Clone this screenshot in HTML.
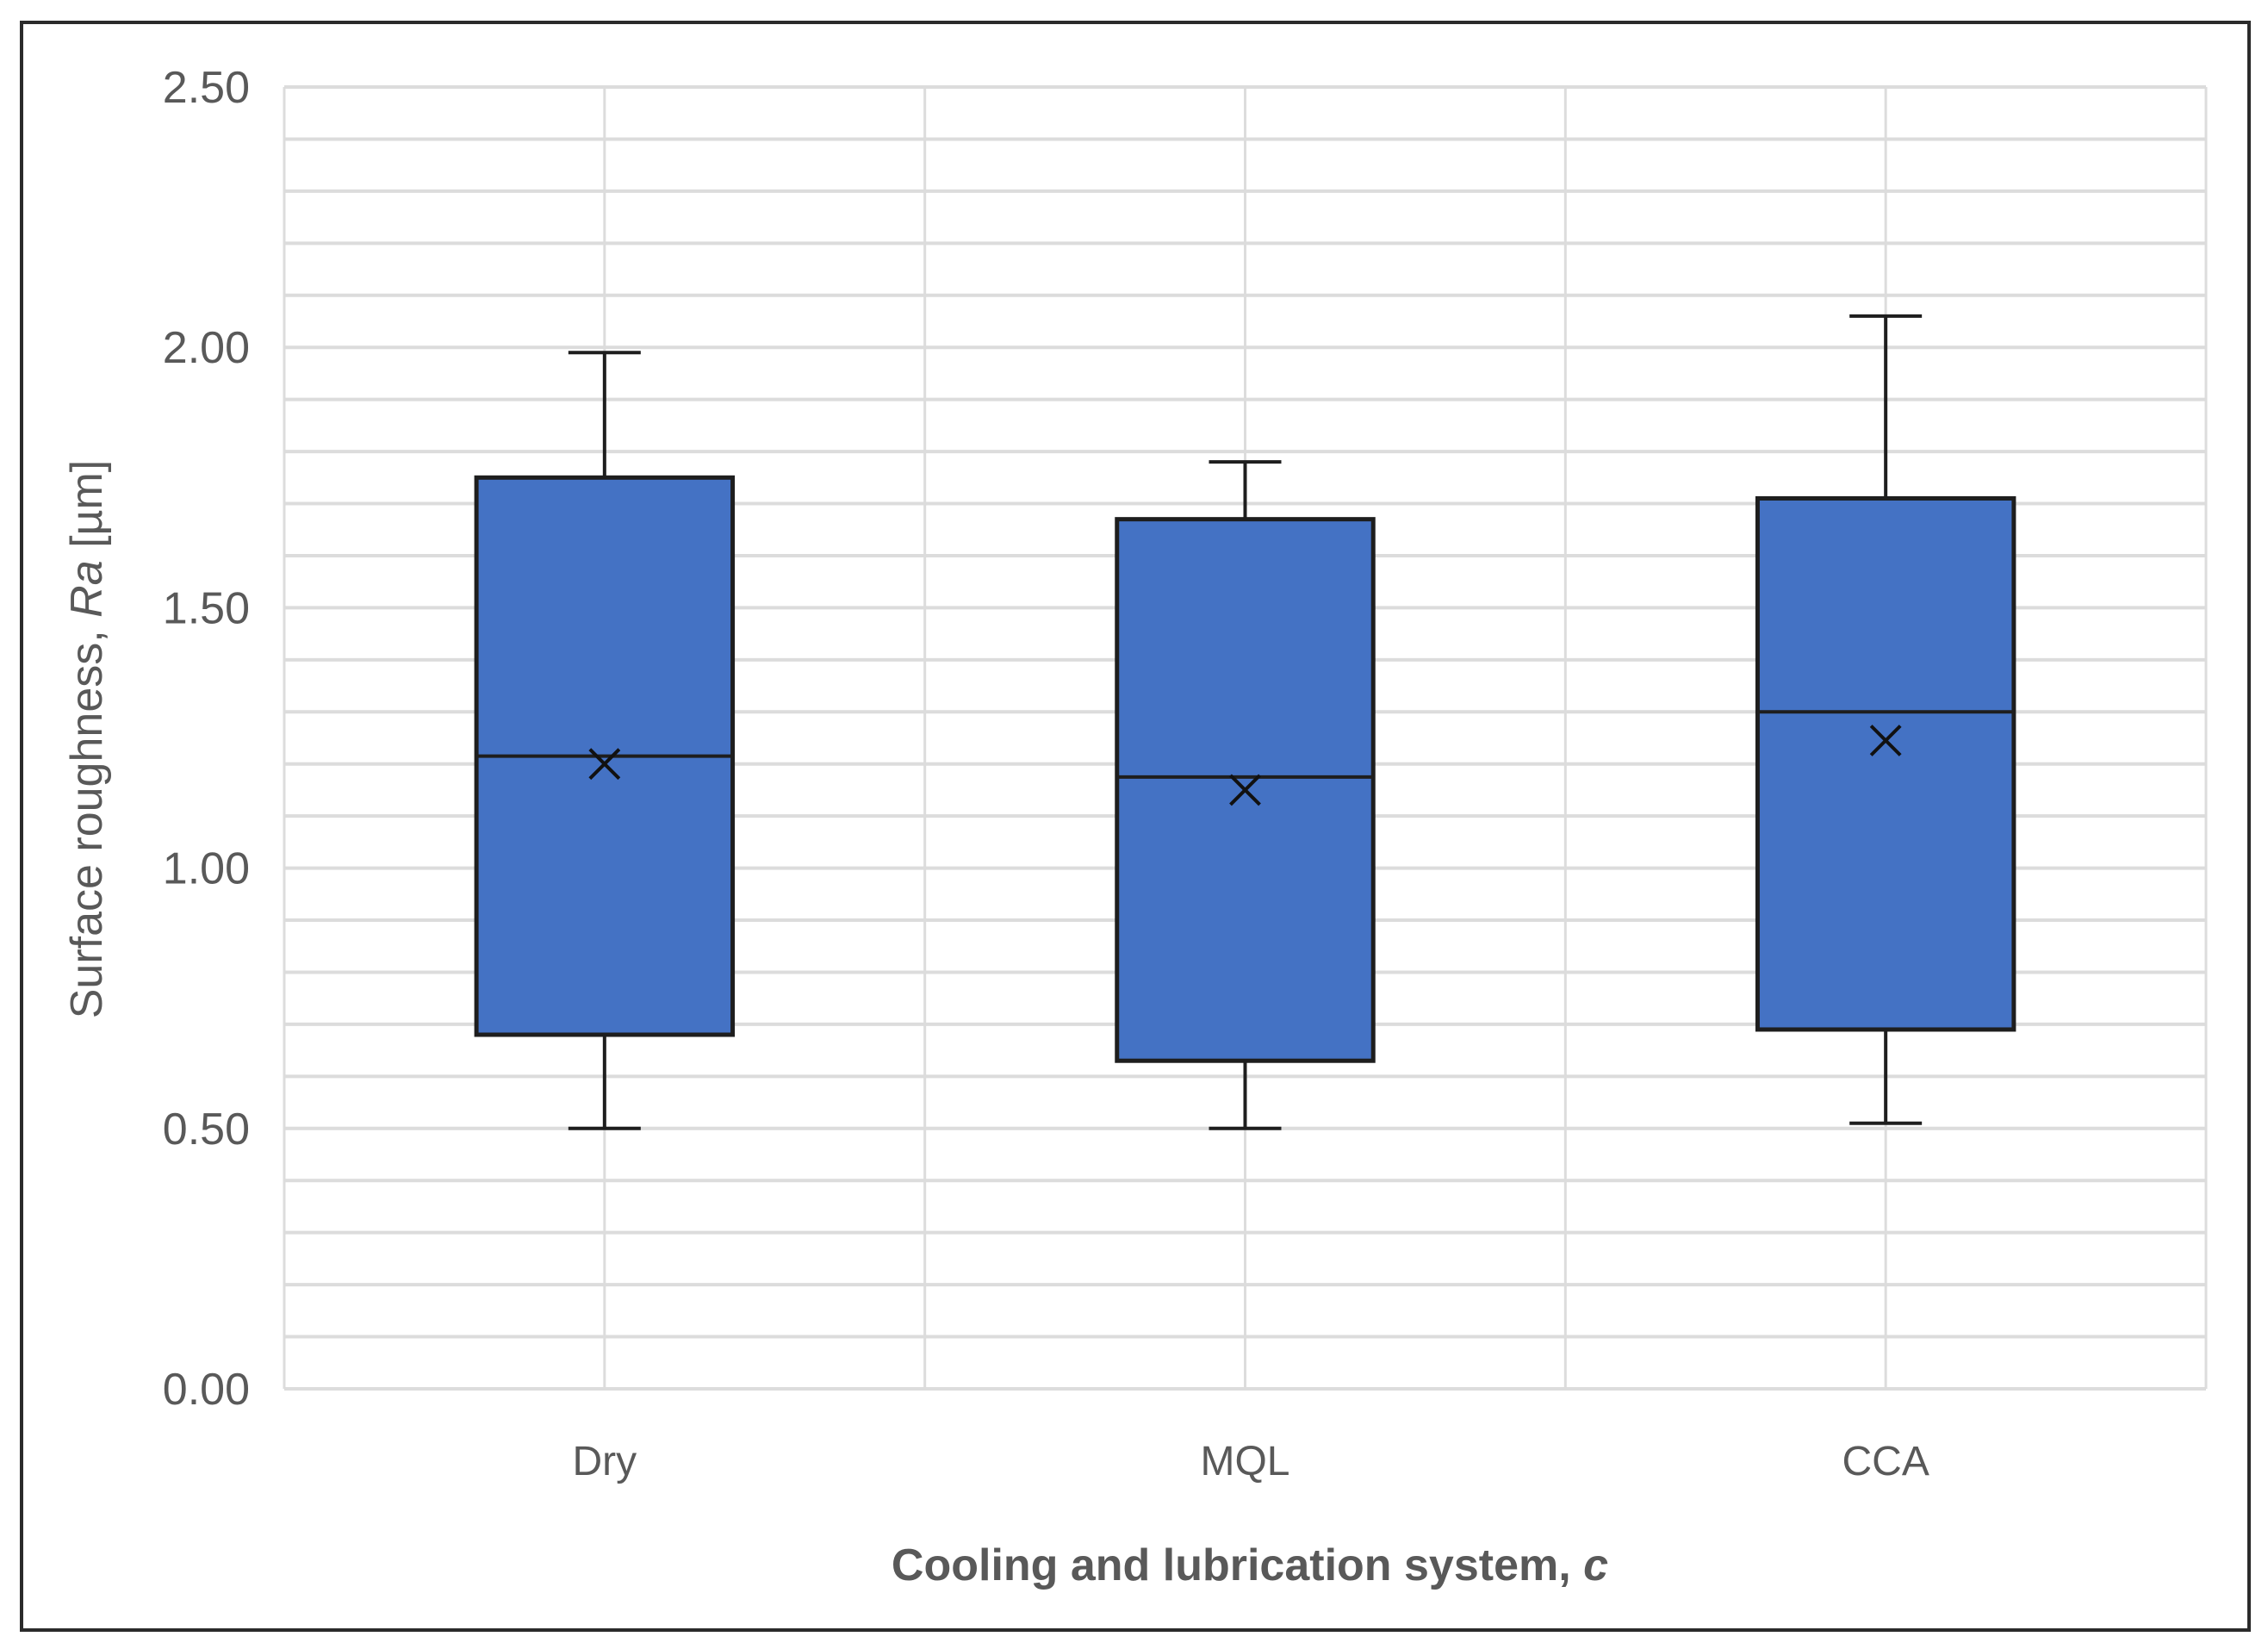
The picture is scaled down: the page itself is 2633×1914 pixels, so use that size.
<!DOCTYPE html>
<html><head><meta charset="utf-8"><style>
html,body{margin:0;padding:0;background:#fff;}
svg{display:block;}
text{font-family:"Liberation Sans",sans-serif;}
</style></head><body>
<svg id="chart" width="2633" height="1914" viewBox="0 0 2633 1914">
<rect x="25" y="26" width="2586" height="1866" fill="#fff" stroke="#2b2b2b" stroke-width="4"/>
<g id="grid"></g>
<g id="yticks"></g>
<g id="xticks"></g>
<g id="boxes"></g>
<text x="1451" y="1834" text-anchor="middle" font-size="52" font-weight="bold" fill="#595959">Cooling and lubrication system, <tspan font-style="italic">c</tspan></text>
<text transform="translate(118,858) rotate(-90)" text-anchor="middle" font-size="52" fill="#595959">Surface roughness, <tspan font-style="italic">Ra</tspan> [µm]</text>
</svg>
<script>
const categories = ["Dry","MQL","CCA"];
const whiskerMin = [0.50, 0.50, 0.51];
const q1 = [0.68, 0.63, 0.69];
const median = [1.215, 1.175, 1.30];
const mean = [1.20, 1.15, 1.245];
const q3 = [1.75, 1.67, 1.71];
const whiskerMax = [1.99, 1.78, 2.06];
const yTickLabels = ["0.00","0.50","1.00","1.50","2.00","2.50"];
const yTickValues = [0,0.5,1,1.5,2,2.5];

const NS="http://www.w3.org/2000/svg";
const L=330,R=2561,T=101,B=1612,YMAX=2.5;
const y=v=>B-(v/YMAX)*(B-T);
const bw=(R-L)/categories.length;
const xc=i=>L+bw*(i+0.5);
function mk(tag,attrs,parent){const e=document.createElementNS(NS,tag);for(const k in attrs)e.setAttribute(k,attrs[k]);parent.appendChild(e);return e;}
const grid=document.getElementById('grid');
for(let k=0;k<=25;k++){
  const v=k*0.1;
  const ln=mk('line',{x1:L,x2:R,y1:y(v),y2:y(v),stroke:'#dcdcdc','stroke-width':4},grid);
  
  
}
for(let i=0;i<=categories.length*2;i++){
  const x=L+bw*i/2;
  const ln=mk('line',{x1:x,x2:x,y1:T,y2:B,stroke:'#dcdcdc','stroke-width':3},grid);
  
  
}
const yt=document.getElementById('yticks');
yTickValues.forEach((v,i)=>{
  const t=mk('text',{x:290,y:y(v)+18,'text-anchor':'end','font-size':52,fill:'#595959'},yt);
  t.textContent=yTickLabels[i];
  
  
});
const xt=document.getElementById('xticks');
categories.forEach((c,i)=>{
  const t=mk('text',{x:xc(i),y:1712,'text-anchor':'middle','font-size':48,fill:'#595959'},xt);
  t.textContent=c;
  
  
});
const bx=document.getElementById('boxes');
const boxW=bw*0.4, cap=42;
categories.forEach((c,i)=>{
  const g=mk('g',{},bx);
  
  
  const x=xc(i);
  const st={stroke:'#1e1e1e','stroke-width':4};
  mk('line',Object.assign({x1:x,x2:x,y1:y(whiskerMax[i]),y2:y(q3[i])},st),g);
  mk('line',Object.assign({x1:x,x2:x,y1:y(q1[i]),y2:y(whiskerMin[i])},st),g);
  mk('line',Object.assign({x1:x-cap,x2:x+cap,y1:y(whiskerMax[i]),y2:y(whiskerMax[i])},st),g);
  mk('line',Object.assign({x1:x-cap,x2:x+cap,y1:y(whiskerMin[i]),y2:y(whiskerMin[i])},st),g);
  mk('rect',{x:x-boxW/2,y:y(q3[i]),width:boxW,height:y(q1[i])-y(q3[i]),fill:'#4472c4',stroke:'#1e1e1e','stroke-width':5},g);
  mk('line',Object.assign({x1:x-boxW/2,x2:x+boxW/2,y1:y(median[i]),y2:y(median[i])},st),g);
  const m=y(mean[i]),s=17;
  mk('path',{d:`M${x-s},${m-s}L${x+s},${m+s}M${x-s},${m+s}L${x+s},${m-s}`,stroke:'#111','stroke-width':4,fill:'none'},g);
});
</script>
</body></html>
